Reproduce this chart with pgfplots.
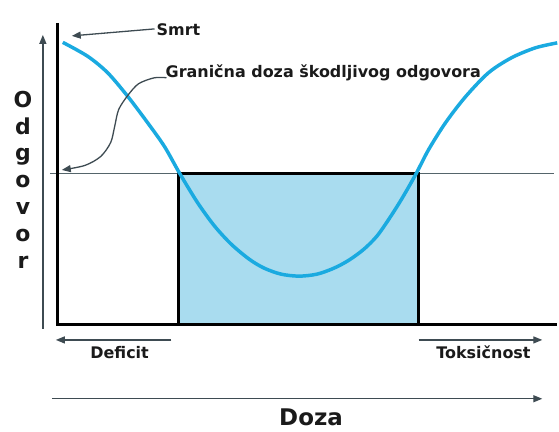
\documentclass[border=0pt]{standalone}
\usepackage{fontspec}
\setmainfont{DejaVu Sans}
\usepackage{pgfplots}
\pgfplotsset{compat=1.18}
\usetikzlibrary{arrows.meta}
\definecolor{curvec}{HTML}{1AAAE0}
\definecolor{boxfill}{HTML}{A9DCEF}
\definecolor{thr}{HTML}{55656B}
\definecolor{arr}{HTML}{3E4B52}
\definecolor{txt}{HTML}{1A1A1A}
\begin{document}
\begin{tikzpicture}
\begin{axis}[width=559pt,height=433pt,scale only axis,
  xmin=0,xmax=559,ymin=0,ymax=433,y dir=reverse,
  axis lines=none, clip=false]
\addplot[draw=none] coordinates {(0,0) (559,433)};
% box fill
\addplot[fill=boxfill, draw=none] coordinates {(179,174)(420,174)(420,326)(179,326)} -- cycle;
% threshold line
\addplot[thr, line width=1.4pt] coordinates {(50,174)(556,174)};
% box border
\addplot[black, line width=3pt, line join=miter] coordinates {(179,174)(420,174)(420,326)(179,326)} -- cycle;
% axes
\addplot[black, line width=3pt, line join=miter] coordinates {(58,23)(58,326)(559,326)};
% response curve
\addplot[curvec, line width=3.5pt, smooth, tension=0.5] coordinates {
(63,42.5) (88,56.5) (108,73) (128,96.5) (148,123) (165,147) (180,173.5)
(198,203) (215,226.5) (232,245) (250,260) (265,269) (282,275) (300,277)
(318,275) (335,269) (350,261) (365,250) (378,237) (390,220) (403,199.5) (417,175)
(430,150) (447,123) (467,97) (490,73) (513,58) (537,48) (559,43)};
% arrows
\tikzset{ah/.style={-{Triangle[length=9pt,width=7pt]}}}
\addplot[arr, line width=1.3pt, ah] coordinates {(43,330)(43,35)};
\addplot[arr, line width=1.3pt, ah] coordinates {(155,29)(72,36)};
\addplot[arr, line width=1.3pt, smooth, ah] coordinates {
(167,78)(155,78)(139,84)(128,96)(119,110)(115,127)(111,143)(101,157)(85,166)(62,170.5)};
\addplot[arr, line width=1.3pt, ah] coordinates {(172,341)(56,341)};
\addplot[arr, line width=1.3pt, ah] coordinates {(420,341)(544,341)};
\addplot[arr, line width=1.3pt, ah] coordinates {(52,400)(544,400)};
% texts
\tikzset{lab/.style={txt, inner sep=0pt, font=\bfseries\fontsize{16}{19}\selectfont}}
\node[lab, anchor=base west] at (axis cs:157,36) {Smrt};
\node[lab, anchor=base west] at (axis cs:166,78) {Granična doza škodljivog odgovora};
\node[lab, anchor=base] at (axis cs:120,360) {Deficit};
\node[lab, anchor=base] at (axis cs:485,360) {Toksičnost};
\node[txt, inner sep=0pt, anchor=base, font=\bfseries\fontsize{23}{26}\selectfont] at (axis cs:312,427) {Doza};
\tikzset{vl/.style={txt, inner sep=0pt, anchor=base, font=\bfseries\fontsize{22}{26}\selectfont}}
\node[vl] at (axis cs:23,108) {O};
\node[vl] at (axis cs:23,135) {d};
\node[vl] at (axis cs:23,161) {g};
\node[vl] at (axis cs:23,188) {o};
\node[vl] at (axis cs:23,215) {v};
\node[vl] at (axis cs:23,242) {o};
\node[vl] at (axis cs:23,269) {r};
\end{axis}
\end{tikzpicture}
\end{document}
